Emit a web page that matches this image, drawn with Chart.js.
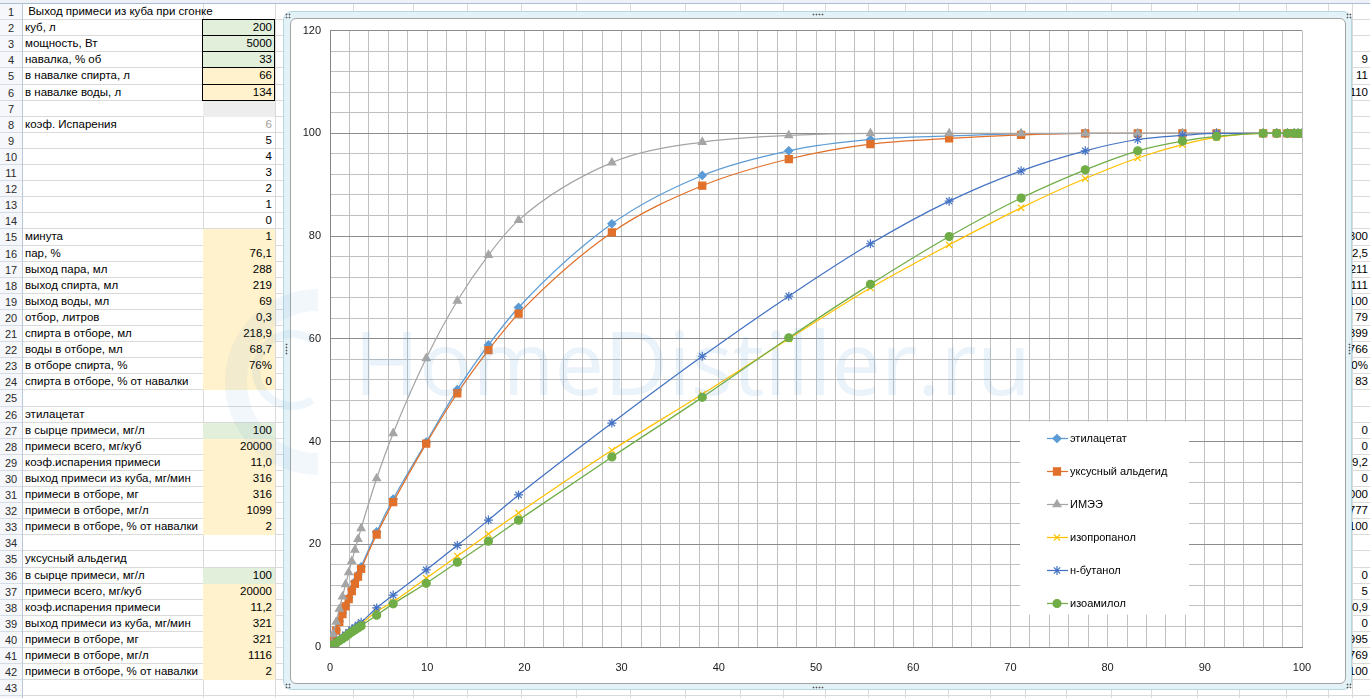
<!DOCTYPE html>
<html lang="ru">
<head>
<meta charset="utf-8">
<title>Выход примеси из куба при сгонке</title>
<script src="https://cdn.jsdelivr.net/npm/chart.js@4.4.1/dist/chart.umd.min.js"></script>
<style>
  html, body { margin: 0; padding: 0; }
  body { width: 1370px; height: 698px; overflow: hidden; position: relative; background: #fff;
         font-family: "Liberation Sans", Arial, sans-serif; font-size: 11.5px; color: #000; }
  * { box-sizing: border-box; }
  #setka { position: absolute; left: 0; top: 0; width: 1370px; height: 698px; }
  .vl { position: absolute; top: 0; width: 1px; height: 698px; background: #dadada; }
  .hl { position: absolute; left: 0; width: 1370px; height: 1px; background: #dadada; }
  #shapka { position: absolute; left: 0; top: 0; width: 1370px; height: 4px; background: #eef2f7; border-bottom: 1px solid #a9bdd4; }
  #nomera { position: absolute; left: 0; top: 4px; width: 23px; height: 694px; background: #f5f7fa; border-right: 1px solid #b9c7d9; }
  .rn { position: absolute; left: 0; width: 22px; line-height: 16px; text-align: center;
        font-size: 11px; color: #2b2b2b; border-bottom: 1px solid #d5dce6; }
  .ca { position: absolute; left: 23px; line-height: 15px; padding-left: 2px; white-space: pre; }
  .cb { position: absolute; left: 203px; width: 72px; line-height: 15px; padding-right: 3px; text-align: right; }
  .cb.ram { border: 1px solid #000; width: 73px; left: 202px; padding-right: 2px; }
  .cr { position: absolute; right: 2px; line-height: 15px; text-align: right; }
  #ramka { position: absolute; left: 283px; top: 11px; width: 1069px; height: 679px; background: #e3f2f7;
           border: 1px solid #b7d6e0; border-radius: 9px; }
  #vnutri { position: absolute; left: 290px; top: 18px; width: 1056px; height: 666px; background: #fff;
            border: 1px solid #a3a3a3; border-radius: 6px; }
  #myChart { position: absolute; left: 291px; top: 15px; }
  .ruchka { position: absolute; background-image: radial-gradient(circle, #555 0.8px, transparent 1.1px); background-size: 3px 3px; }
  #znak { position: absolute; left: 0; top: 0; pointer-events: none; }
</style>
</head>
<body>
<div id="setka"></div>
<div id="shapka"></div>
<div id="nomera"></div>
<div id="list"></div>
<div id="ramka"></div>
<div id="vnutri"></div>
<canvas id="myChart" width="1055" height="667"></canvas>
<div class="ruchka" style="left:812px;top:13px;width:12px;height:3px"></div>
<div class="ruchka" style="left:812px;top:686px;width:12px;height:3px"></div>
<div class="ruchka" style="left:285px;top:343px;width:3px;height:12px"></div>
<div class="ruchka" style="left:1348px;top:343px;width:3px;height:12px"></div>
<div class="ruchka" style="left:285px;top:13px;width:6px;height:6px"></div>
<div class="ruchka" style="left:1346px;top:13px;width:6px;height:6px"></div>
<div class="ruchka" style="left:285px;top:683px;width:6px;height:6px"></div>
<div class="ruchka" style="left:1346px;top:683px;width:6px;height:6px"></div>
<svg id="znak" width="1370" height="698">
  <path d="M 318 300 A 82 82 0 1 0 318 464" fill="none" stroke="#5b9bd5" stroke-opacity="0.08" stroke-width="22"></path>
  <path d="M 312 340 A 36 36 0 1 0 312 400" fill="none" stroke="#5b9bd5" stroke-opacity="0.10" stroke-width="8"></path>
  <text x="354" y="395" font-family="Open Sans" font-size="88.5" fill="#5b9bd5" fill-opacity="0.13">HomeDistiller.ru</text>
</svg>

<script>
// доля отобранного спирта, % от навалки (ось X)
var otbor = [0, 0.32, 0.64, 0.96, 1.28, 1.6, 1.92, 2.24, 2.56, 2.88, 3.2,
  4.8, 6.5, 9.9, 13.1, 16.3, 19.4, 29, 38.3, 47.2, 55.6, 63.7, 71.1,
  77.7, 83.1, 87.7, 91.2, 96, 97.4, 98.5, 99.2, 99.6, 100];

// примеси в отборе, % от навалки
var etilacetat = [0, 1.6, 3.3, 5.0, 6.6, 8.1, 9.6, 11.2, 12.7, 14.1, 15.6,
  22.4, 28.8, 39.9, 50.1, 58.8, 66.1, 82.4, 91.8, 96.6, 98.8, 99.5, 99.9,
  100, 100, 100, 100, 100, 100, 100, 100, 100, 100];
var uksusnyi = [0, 1.6, 3.2, 4.9, 6.4, 7.9, 9.3, 10.9, 12.3, 13.7, 15.2,
  21.9, 28.2, 39.6, 49.4, 57.8, 64.9, 80.7, 89.8, 95.0, 97.9, 99.0, 99.7,
  100, 100, 100, 100, 100, 100, 100, 100, 100, 100];
var imee = [0, 2.5, 4.9, 7.4, 9.8, 12.2, 14.5, 16.7, 18.9, 21.0, 23.1,
  32.8, 41.6, 56.2, 67.4, 76.3, 83.1, 94.3, 98.3, 99.6, 100, 100, 100,
  100, 100, 100, 100, 100, 100, 100, 100, 100, 100];
var izopropanol = [0, 0.45, 0.9, 1.35, 1.8, 2.25, 2.7, 3.1, 3.6, 4.0, 4.5,
  6.9, 8.8, 13.4, 17.7, 22.0, 26.1, 38.3, 49.2, 60.0, 69.9, 78.3, 85.5,
  91.2, 95.2, 97.8, 99.2, 100, 100, 100, 100, 100, 100];
var butanol = [0, 0.5, 1.0, 1.4, 1.9, 2.4, 2.9, 3.4, 3.8, 4.3, 4.8,
  7.6, 10.1, 15.0, 19.8, 24.7, 29.6, 43.6, 56.6, 68.3, 78.5, 86.8, 92.7,
  96.6, 98.8, 99.6, 100, 100, 100, 100, 100, 100, 100];
var izoamilol = [0, 0.4, 0.8, 1.2, 1.6, 2.0, 2.5, 2.9, 3.3, 3.7, 4.1,
  6.2, 8.4, 12.4, 16.5, 20.6, 24.7, 37.0, 48.6, 60.2, 70.6, 79.9, 87.4,
  92.9, 96.6, 98.5, 99.4, 100, 100, 100, 100, 100, 100];

// лист слева
var kolonkaA = [' Выход примеси из куба при сгонке', 'куб, л', 'мощность, Вт', 'навалка, % об',
  'в навалке спирта, л', 'в навалке воды, л', '', 'коэф. Испарения', '', '', '', '', '', '',
  'минута', 'пар, %', 'выход пара, мл', 'выход спирта, мл', 'выход воды, мл', 'отбор, литров',
  'спирта в отборе, мл', 'воды в отборе, мл', 'в отборе спирта, %', 'спирта в отборе, % от навалки',
  '', 'этилацетат', 'в сырце примеси, мг/л', 'примеси всего, мг/куб', 'коэф.испарения примеси',
  'выход примеси из куба, мг/мин', 'примеси в отборе, мг', 'примеси в отборе, мг/л',
  'примеси в отборе, % от навалки', '', 'уксусный альдегид', 'в сырце примеси, мг/л',
  'примеси всего, мг/куб', 'коэф.испарения примеси', 'выход примеси из куба, мг/мин',
  'примеси в отборе, мг', 'примеси в отборе, мг/л', 'примеси в отборе, % от навалки', ''];
var kolonkaB = ['', '200', '5000', '33', '66', '134', '', '6', '5', '4', '3', '2', '1', '0',
  '1', '76,1', '288', '219', '69', '0,3', '218,9', '68,7', '76%', '0', '', '',
  '100', '20000', '11,0', '316', '316', '1099', '2', '', '',
  '100', '20000', '11,2', '321', '321', '1116', '2', ''];
var zalivka = ['', 'zr', 'zr', 'zr', 'jr', 'jr', 's', 'g', '', '', '', '', '', '',
  'j', 'j', 'j', 'j', 'j', 'j', 'j', 'j', 'j', 'j', '', '',
  'z', 'j', 'j', 'j', 'j', 'j', 'j', '', '',
  'z', 'j', 'j', 'j', 'j', 'j', 'j', ''];
var kolonkaR = { 4: '9', 5: '11', 6: '110', 15: '300', 16: '62,5', 17: '211', 18: '111', 19: '100',
  20: '79', 21: '1899', 22: '5766', 23: '70%', 24: '83', 27: '0', 28: '0', 29: '29,2', 30: '0',
  31: '6000', 32: '3777', 33: '100', 36: '0', 37: '5', 38: '20,9', 39: '0', 40: '3995',
  41: '2769', 42: '100' };
var stolbcy = [203, 275, 353, 413, 467, 521, 576, 630, 685, 740, 783, 825, 868, 905, 948, 990,
  1025, 1066, 1111, 1151, 1197, 1239, 1286, 1328, 1352];

function verhStroki(i) { return Math.round(4 + 16.1 * i); }

function postroitList() {
  var list = document.getElementById('list');
  var nomera = document.getElementById('nomera');
  var setka = document.getElementById('setka');
  stolbcy.forEach(function (x) {
    var d = document.createElement('div');
    d.className = 'vl';
    d.style.left = x + 'px';
    setka.appendChild(d);
  });
  for (var i = 0; i < 43; i++) {
    var top = verhStroki(i), h = verhStroki(i + 1) - top;
    var hl = document.createElement('div');
    hl.className = 'hl';
    hl.style.top = (top + h - 1) + 'px';
    setka.appendChild(hl);

    var rn = document.createElement('div');
    rn.className = 'rn';
    rn.style.top = (top - 4) + 'px';
    rn.style.height = h + 'px';
    rn.textContent = i + 1;
    nomera.appendChild(rn);

    var a = document.createElement('div');
    a.className = 'ca';
    a.style.top = top + 'px';
    a.style.height = h + 'px';
    a.textContent = kolonkaA[i];
    list.appendChild(a);

    var z = zalivka[i];
    if (kolonkaB[i] !== '' || z !== '') {
      var b = document.createElement('div');
      b.className = 'cb';
      b.style.top = top + 'px';
      b.style.height = h + 'px';
      if (z.indexOf('r') >= 0) {
        b.className += ' ram';
        b.style.top = (top - 1) + 'px';
        b.style.height = (h + 1) + 'px';
      }
      if (z[0] === 'z') b.style.background = '#e2efda';
      if (z[0] === 'j') b.style.background = '#fff2cc';
      if (z === 's') b.style.background = '#ededed';
      if (z === 'g') b.style.color = '#a0a0a0';
      b.textContent = kolonkaB[i];
      list.appendChild(b);
    }
    if (kolonkaR[i + 1]) {
      var r = document.createElement('div');
      r.className = 'cr';
      r.style.top = top + 'px';
      r.style.height = h + 'px';
      r.textContent = kolonkaR[i + 1];
      list.appendChild(r);
    }
  }
}
postroitList();

// серия графика
function seriya(label, ys, color, style, radius, order) {
  return {
    label: label,
    data: otbor.map(function (x, i) { return { x: x, y: ys[i] }; }),
    showLine: true,
    borderColor: color,
    backgroundColor: color,
    borderWidth: 1.25,
    pointStyle: style,
    pointRadius: radius,
    pointBorderWidth: 1.2,
    pointBackgroundColor: color,
    pointBorderColor: color,
    cubicInterpolationMode: 'monotone',
    order: order
  };
}

// легенда как в Excel, внутри области построения
var legendaExcel = {
  id: 'legendaExcel',
  afterDatasetsDraw: function (chart) {
    var ctx = chart.ctx, a = chart.chartArea;
    var bx = a.left + 690, by = a.top + 391;
    ctx.save();
    ctx.fillStyle = '#fff';
    ctx.fillRect(bx, by, 169, 193);
    chart.data.datasets.forEach(function (ds, i) {
      var y = Math.round(by + 16.5 + i * 32.9) + 0.5;
      ctx.strokeStyle = ds.borderColor;
      ctx.lineWidth = 1.25;
      ctx.beginPath();
      ctx.moveTo(bx + 27, y);
      ctx.lineTo(bx + 48, y);
      ctx.stroke();
      ctx.fillStyle = ds.pointBackgroundColor;
      ctx.lineWidth = ds.pointBorderWidth;
      Chart.helpers.drawPoint(ctx, { pointStyle: ds.pointStyle, radius: ds.pointRadius, rotation: 0,
        borderWidth: ds.pointBorderWidth }, bx + 37, y);
      ctx.fillStyle = '#000';
      ctx.font = '11px "Liberation Sans"';
      ctx.textBaseline = 'middle';
      ctx.fillText(ds.label, bx + 50, y);
    });
    ctx.restore();
  }
};

var ctx = document.getElementById('myChart').getContext('2d');
var chart = new Chart(ctx, {
  type: 'scatter',
  data: {
    datasets: [
      seriya('этилацетат', etilacetat, '#5b9bd5', 'rectRot', 4, 6),
      seriya('уксусный альдегид', uksusnyi, '#e0702a', 'rect', 5, 5),
      seriya('ИМЭЭ', imee, '#a5a5a5', 'triangle', 4.5, 4),
      seriya('изопропанол', izopropanol, '#ffc000', 'crossRot', 4.5, 3),
      seriya('н-бутанол', butanol, '#4472c4', 'star', 4.5, 2),
      seriya('изоамилол', izoamilol, '#70ad47', 'circle', 4, 1)
    ]
  },
  options: {
    responsive: false,
    animation: false,
    layout: { padding: { top: 0, right: 44, left: 0, bottom: 0 } },
    plugins: { legend: { display: false }, tooltip: { enabled: false } },
    scales: {
      x: {
        type: 'linear',
        min: 0,
        max: 100,
        afterFit: function (scale) { scale.height = 35; },
        ticks: {
          stepSize: 2,
          autoSkip: false,
          maxRotation: 0,
          padding: 14,
          color: '#1a1a1a',
          font: { family: 'Liberation Sans', size: 11 },
          callback: function (v) { return v % 10 === 0 ? v : ''; }
        },
        grid: { color: '#c0c0c0', drawTicks: false },
        border: { color: '#868686' }
      },
      y: {
        min: 0,
        max: 120,
        afterFit: function (scale) { scale.width = 39; },
        ticks: {
          stepSize: 4,
          autoSkip: false,
          padding: 9,
          color: '#1a1a1a',
          font: { family: 'Liberation Sans', size: 11 },
          callback: function (v) { return v % 20 === 0 ? v : ''; }
        },
        grid: {
          drawTicks: false,
          color: function (c) { return c.tick && c.tick.value % 20 === 0 ? '#8c8c8c' : '#c0c0c0'; }
        },
        border: { color: '#868686' }
      }
    }
  },
  plugins: [legendaExcel]
});
</script>
</body>
</html>
